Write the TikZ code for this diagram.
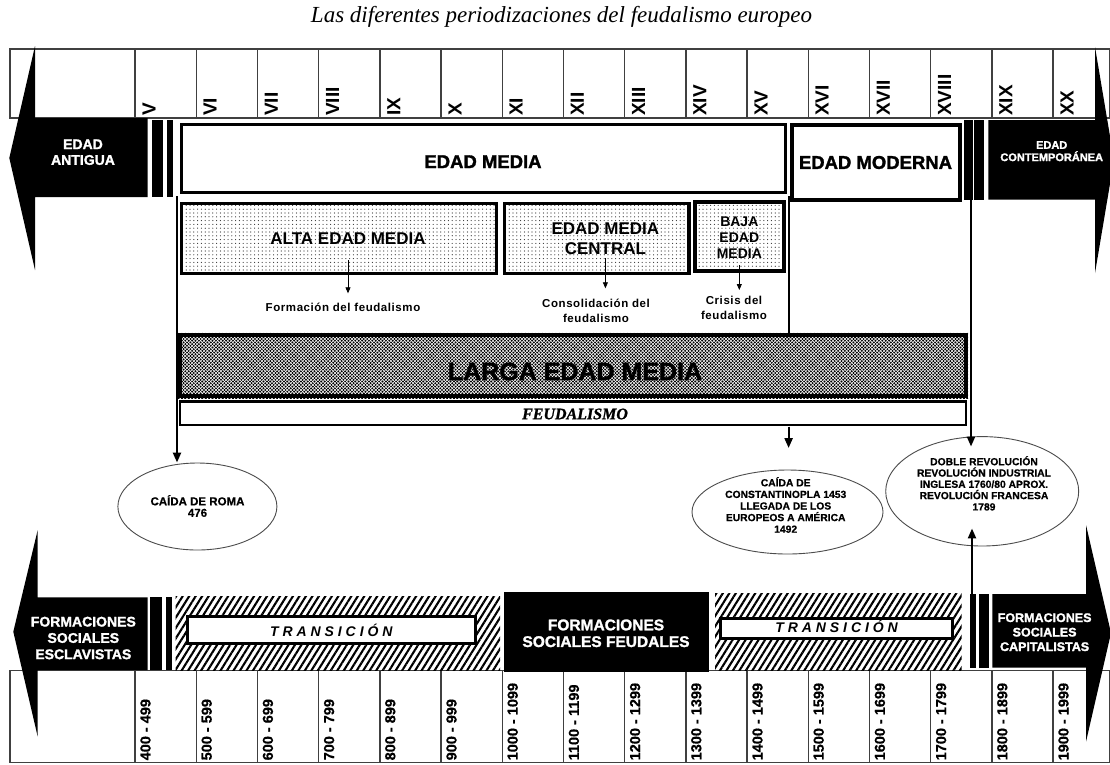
\documentclass[tikz,border=0pt]{standalone}
\usepackage{fontspec}
\setmainfont{Liberation Sans}
\newfontfamily\titlefont{Liberation Serif}
\newfontfamily\feudfont{Liberation Serif}[FakeBold=1.2]
\newfontfamily\heavyfont{Liberation Sans}[FakeBold=1.6]
\newfontfamily\midfont{Liberation Sans}[FakeBold=0.6]
\newfontfamily\transfont[LetterSpace=28]{Liberation Sans}
\newfontfamily\lblfont[LetterSpace=5]{Liberation Sans}
\usetikzlibrary{arrows.meta,shapes.geometric,patterns.meta}
\newcommand{\fs}[2]{\fontsize{#1}{#2}\selectfont}
\begin{document}
\begin{tikzpicture}[x=1pt,y=-1pt,
  stripline/.style={draw=black!75,line width=1.4pt},
  rom/.style={font=\bfseries\fs{19}{21}, inner sep=0, rotate=90, anchor=west},
  yrs/.style={font=\midfont\bfseries\fs{14.5}{16}, inner sep=0, rotate=90, anchor=west},
  wtxt/.style={text=white, align=center, inner sep=0},
  btxt/.style={text=black, align=center, inner sep=0},
  fbox/.style={draw=black, fill=white, inner sep=0, line width=#1},
  fbox/.default=3.5pt,
  dotbox/.style={draw=black, line width=#1, inner sep=0, pattern={Dots[distance=3.8pt,radius=0.6pt]}, pattern color=black!80},
  dotbox/.default=3.5pt,
  ell/.style={ellipse, draw=black!70, line width=0.9pt, inner sep=0, fill=white},
  etxt/.style={font=\midfont\bfseries\fs{10.3}{11.6}, align=center, inner sep=0},
  bigarr/.style={line width=2.2pt, -{Triangle[length=10pt,width=8pt]}},
  sarr/.style={line width=0.8pt, -{Triangle[length=6pt,width=5pt]}},
  lbl/.style={font=\lblfont\bfseries\fs{11.5}{15}, align=center, inner sep=0},
  hatch/.style={pattern={Lines[angle=58,distance=5.5pt,line width=2.1pt]}, pattern color=black},
  trbox/.style={draw=black, fill=white, line width=3pt, inner sep=0},
  trtxt/.style={font=\transfont\bfseries\itshape\fs{14}{16}, inner sep=0}
]
\useasboundingbox (0,0) rectangle (1110,764);
\clip (0,0) rectangle (1110,764);
\fill[white] (0,0) rectangle (1110,764);

% title
\node[font=\titlefont\itshape\fs{23}{27}, inner sep=0, anchor=base] (title) at (561.5,22.5) {Las diferentes periodizaciones del feudalismo europeo};

% top strip
\draw[stripline] (10,49) rectangle (1110,118);
\foreach \i in {0,...,15} \draw[stripline] ({135+61.2*\i},49) -- ({135+61.2*\i},118);
\foreach \r [count=\i from 0] in {V,VI,VII,VIII,IX,X,XI,XII,XIII,XIV,XV,XVI,XVII,XVIII,XIX,XX}
  \node[rom] (c\i) at ({149+61.2*\i},116) {\r};

% bottom strip
\draw[stripline] (10,670.5) rectangle (1110,762.5);
\foreach \i in {0,...,15} \draw[stripline] ({135+61.2*\i},670.5) -- ({135+61.2*\i},762.5);
\foreach \r [count=\i from 0] in {400 - 499,500 - 599,600 - 699,700 - 799,800 - 899,900 - 999,1000 - 1099,1100 - 1199,1200 - 1299,1300 - 1399,1400 - 1499,1500 - 1599,1600 - 1699,1700 - 1799,1800 - 1899,1900 - 1999}
  \node[yrs] (y\i) at ({145.5+61.2*\i},760.5) {\r};

% black arrows (top)
\fill (35,46) -- (9.3,158) -- (35,270) -- (35,197) -- (147.7,197) -- (147.7,118) -- (35,118) -- cycle;
\fill (152,120) rectangle (162.7,197.3);
\fill (166.7,120) rectangle (172.7,197.3);
\node[wtxt, font=\heavyfont\bfseries\fs{14}{15.7}] (antT) at (83,152.2) {EDAD\\ANTIGUA};

\fill (1095,47) -- (1114,160) -- (1095,273) -- (1095,199.5) -- (988.3,199.5) -- (988.3,120) -- (1095,120) -- cycle;
\fill (964,120) rectangle (972.7,200);
\fill (974.3,120) rectangle (984,200);
\node[wtxt, font=\heavyfont\bfseries\fs{11}{12.3}] (contT) at (1051.7,151.2) {EDAD\\CONTEMPORÁNEA};

% black arrows (bottom)
\fill (37.7,530) -- (13.3,631.7) -- (37.7,736.7) -- (37.7,670) -- (147.7,670) -- (147.7,597.3) -- (37.7,597.3) -- cycle;
\fill (150,597.3) rectangle (161.7,670);
\fill (165.7,597.3) rectangle (171.7,670);
\node[wtxt, font=\heavyfont\bfseries\fs{14}{16.3}] (esclT) at (83.3,638) {FORMACIONES\\SOCIALES\\ESCLAVISTAS};

\fill (1086,525) -- (1111,633) -- (1086,741.7) -- (1086,667.7) -- (992.3,667.7) -- (992.3,594) -- (1086,594) -- cycle;
\fill (970,594) rectangle (975.7,668);
\fill (979,594) rectangle (989,668);
\node[wtxt, font=\heavyfont\bfseries\fs{12.5}{14.5}] (capT) at (1044.6,632.2) {FORMACIONES\\SOCIALES\\CAPITALISTAS};

% Edad Media / Moderna
\node[fbox, minimum width=603.8pt, minimum height=68pt] (edm) at (483.6,158.5) {};
\node[btxt, font=\heavyfont\bfseries\fs{18.5}{20}] (edmT) at (483,161.7) {EDAD MEDIA};
\node[fbox=4pt, minimum width=168.5pt, minimum height=75.5pt] (mod) at (875.75,162.25) {};
\node[btxt, font=\heavyfont\bfseries\fs{18.5}{20}] (modT) at (875.5,162.5) {EDAD MODERNA};

% frame
\coordinate (frameL) at (177,196);
\coordinate (frameM) at (788.6,426.7);
\coordinate (barTR) at (971,200);
\coordinate (barBR) at (972,594);
\draw[line width=2pt] (788.6,196) -- (788.6,333);

% ellipses
\node[ell, minimum width=159pt, minimum height=87pt] (roma) at (197.4,506.5) {};
\node[etxt, font=\midfont\bfseries\fs{11.5}{11.5}] (romaT) at (197.5,506) {CAÍDA DE ROMA\\476};
\node[ell, minimum width=191pt, minimum height=84pt] (const) at (787.5,512) {};
\node[etxt] (constT) at (785.7,505) {CAÍDA DE\\CONSTANTINOPLA 1453\\LLEGADA DE LOS\\EUROPEOS A AMÉRICA\\1492};
\node[ell, minimum width=193pt, minimum height=109.4pt] (doble) at (982.2,491.3) {};
\node[etxt, font=\midfont\bfseries\fs{10.3}{11.3}] (dobleT) at (984,483.3) {DOBLE REVOLUCIÓN\\REVOLUCIÓN INDUSTRIAL\\INGLESA 1760/80 APROX.\\REVOLUCIÓN FRANCESA\\1789};

% sub periods
\node[dotbox, minimum width=315pt, minimum height=69.8pt] (alta) at (339,238.4) {};
\node[dotbox, minimum width=184.5pt, minimum height=69.8pt] (central) at (596.95,238.4) {};
\node[dotbox=4pt, minimum width=89.2pt, minimum height=69.1pt] (baja) at (739.3,236.35) {};
\node[btxt, font=\bfseries\fs{17}{20}] (altaT) at (348,238.3) {ALTA EDAD MEDIA};
\node[btxt, font=\bfseries\fs{17}{20}] (centralT) at (605.4,238.3) {EDAD MEDIA\\CENTRAL};
\node[btxt, font=\bfseries\fs{14}{16}] (bajaT) at (739.3,237.5) {BAJA\\EDAD\\MEDIA};
\node[lbl] (formT) at (343,307.3) {Formación del feudalismo};
\node[lbl] (consT) at (596,311) {Consolidación del\\feudalismo};
\node[lbl] (crisT) at (734,307.5) {Crisis del\\feudalismo};
\draw[sarr, shorten <=21.7pt, shorten >=14pt] (altaT.center) -- (altaT.center |- formT.center);
\draw[sarr, shorten <=20pt, shorten >=22.7pt] (centralT.center) -- (centralT.center |- consT.center);
\draw[sarr, shorten <=27.5pt, shorten >=17.5pt] (bajaT.center) -- (bajaT.center |- crisT.center);

% larga edad media / feudalismo
\node[draw=black, line width=4pt, inner sep=0, minimum width=786pt, minimum height=61.6pt, pattern={Dots[distance=3.4pt,radius=1.1pt]}, pattern color=black] (larga) at (573,365.5) {};
\fill[pattern={Dots[distance=3.4pt,radius=1.1pt,xshift=1.7pt,yshift=1.7pt]}, pattern color=black] (larga.south west) rectangle (larga.north east);
\node[btxt, font=\heavyfont\bfseries\fs{25}{27}] (largaT) at (575,371.5) {LARGA EDAD MEDIA};
\node[fbox=2.5pt, minimum width=786pt, minimum height=23.5pt] (feud) at (573,413.25) {};
\node[btxt, font=\feudfont\bfseries\itshape\fs{16}{18}] (feudT) at (575,414) {FEUDALISMO};

% big arrows
\draw[bigarr] (frameL) -- (frameL |- roma.north);
\draw[bigarr, shorten >=21.5pt] (frameM) -- (frameM |- const.north);
\draw[bigarr, shorten >=-10.4pt] (barTR) -- (barTR |- doble.north);
\draw[bigarr, shorten >=-18pt] (barBR) -- (barBR |- doble.south);

% bottom band: hatched transitions, feudal formations
\fill[hatch] (175.5,596) rectangle (500,670.5);
\node[trbox, minimum width=288.1pt, minimum height=27pt] (tr1) at (331.25,630) {};
\node[trtxt] (tr1T) at (331.3,630) {TRANSICIÓN};
\node[fill=black, inner sep=0, minimum width=205.4pt, minimum height=80pt] (feudal) at (606.3,631.7) {};
\node[wtxt, font=\heavyfont\bfseries\fs{15.5}{16.7}] (feudalT) at (606,633.3) {FORMACIONES\\SOCIALES FEUDALES};
\fill[hatch] (715,593) rectangle (961.7,670.5);
\node[trbox, minimum width=232pt, minimum height=20.3pt] (tr2) at (836.1,628.35) {};
\node[trtxt] (tr2T) at (836.6,626.7) {TRANSICIÓN};
\end{tikzpicture}
\end{document}
